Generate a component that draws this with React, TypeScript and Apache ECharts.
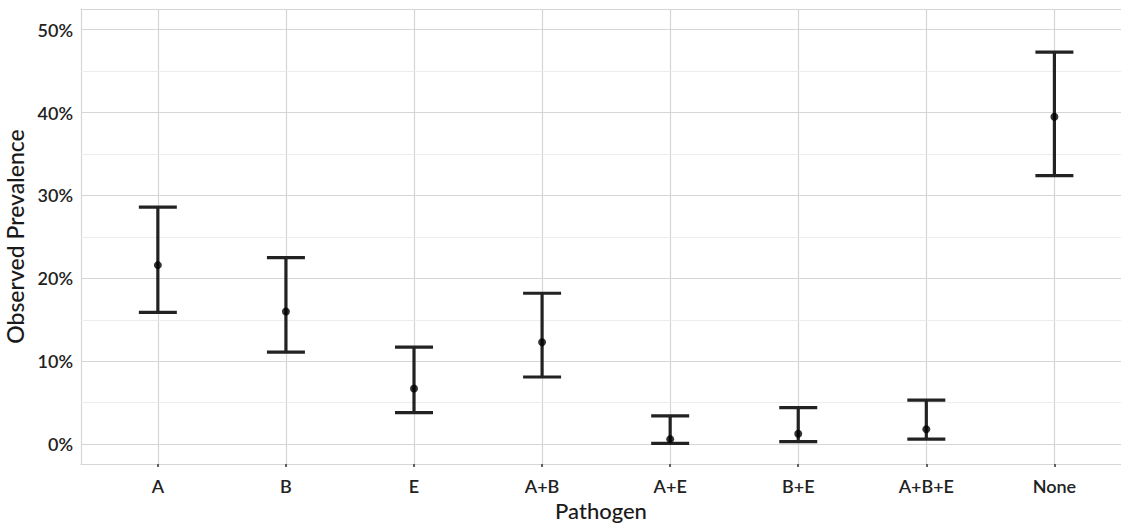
import React, { useEffect, useRef } from "react";
import * as echarts from "echarts";

const categories = ["A", "B", "E", "A+B", "A+E", "B+E", "A+B+E", "None"];
const prevalence = [21.6, 16.0, 6.7, 12.3, 0.6, 1.25, 1.8, 39.5];
const lower = [15.9, 11.1, 3.8, 8.1, 0.1, 0.3, 0.6, 32.4];
const upper = [28.6, 22.5, 11.7, 18.2, 3.4, 4.4, 5.3, 47.3];
const yMajorTicks = [0, 10, 20, 30, 40, 50];
const yMinorTicks = [5, 15, 25, 35, 45];

const FONT = "Lato, 'Open Sans', sans-serif";
const BORDER = "#d6d6d6";

export default function App() {
  const ref = useRef<HTMLDivElement>(null);
  useEffect(() => {
    if (!ref.current) return;
    const chart = echarts.init(ref.current, undefined, { renderer: "svg" });
    const xIdx = categories.map((_, i) => i);
    const barData = categories.map((_, i) => [i, lower[i], upper[i]]);
    const pointData = categories.map((_, i) => [i, prevalence[i]]);
    chart.setOption({
      animation: false,
      backgroundColor: "#ffffff",
      grid: {
        left: 81,
        top: 9,
        right: 0,
        bottom: 59,
        show: false,
        containLabel: false,
        outerBoundsMode: "none",
      },
      xAxis: [
        {
          type: "value",
          min: -0.6,
          max: 7.52,
          name: "Pathogen",
          nameLocation: "middle",
          nameGap: 31,
          nameTextStyle: { fontFamily: FONT, fontSize: 22, color: "#1a1a1a", fontWeight: 500, lineHeight: 22 },
          axisLine: { show: true, onZero: false, lineStyle: { color: BORDER, width: 1.2 } },
          axisTick: { show: true, customValues: xIdx, length: 3, lineStyle: { color: "#333", width: 1.5 } },
          axisLabel: {
            customValues: xIdx,
            formatter: (v: number) => categories[Math.round(v)] ?? "",
            fontFamily: FONT,
            fontSize: 18,
            fontWeight: 600,
            color: "#222",
            margin: 13,
          },
          splitLine: { show: true, lineStyle: { color: BORDER, width: 1.2 } },
        },
        {
          type: "value",
          position: "top",
          min: -0.6,
          max: 7.52,
          axisLine: { show: true, onZero: false, lineStyle: { color: BORDER, width: 1.2 } },
          axisTick: { show: false },
          axisLabel: { show: false },
          splitLine: { show: false },
        },
      ],
      yAxis: {
        type: "value",
        min: -2.4,
        max: 52.5,
        name: "Observed Prevalence",
        nameLocation: "middle",
        nameGap: 42,
        nameTextStyle: { fontFamily: FONT, fontSize: 23, color: "#1a1a1a", fontWeight: 500 },
        axisLine: { show: true, onZero: false, lineStyle: { color: BORDER, width: 1.2 } },
        axisTick: { show: false, customValues: yMajorTicks },
        axisLabel: {
          customValues: yMajorTicks,
          formatter: (v: number) => `${v}%`,
          fontFamily: FONT,
          fontSize: 18,
          fontWeight: 600,
          color: "#222",
          margin: 8,
        },
        splitLine: { show: true, lineStyle: { color: BORDER, width: 1.2 } },
      },
      series: [
        {
          type: "line",
          xAxisIndex: 0,
          yAxisIndex: 0,
          data: [],
          z: 1,
          silent: true,
          markLine: {
            silent: true,
            symbol: ["none", "none"],
            label: { show: false },
            lineStyle: { color: "#ececec", width: 1, type: "solid" },
            data: yMinorTicks.map((v) => ({ yAxis: v })),
          },
        },
        {
          type: "custom",
          xAxisIndex: 0,
          yAxisIndex: 0,
          data: barData,
          z: 5,
          renderItem: (params: any, api: any) => {
            const x = api.value(0);
            const lo = api.coord([x, api.value(1)]);
            const hi = api.coord([x, api.value(2)]);
            const half = 19;
            const style = { stroke: "#222", lineWidth: 3.2, fill: "none" };
            return {
              type: "group",
              children: [
                { type: "line", shape: { x1: lo[0], y1: lo[1], x2: hi[0], y2: hi[1] }, style },
                { type: "line", shape: { x1: lo[0] - half, y1: lo[1], x2: lo[0] + half, y2: lo[1] }, style },
                { type: "line", shape: { x1: hi[0] - half, y1: hi[1], x2: hi[0] + half, y2: hi[1] }, style },
              ],
            };
          },
        },
        {
          type: "scatter",
          xAxisIndex: 0,
          yAxisIndex: 0,
          data: pointData,
          symbol: "circle",
          symbolSize: 8,
          itemStyle: { color: "#000000" },
          z: 6,
        },
      ],
    });
    return () => chart.dispose();
  }, []);
  return (
    <div
      ref={ref}
      style={{ position: "fixed", left: 0, top: 0, width: 1121, height: 523 }}
    />
  );
}
